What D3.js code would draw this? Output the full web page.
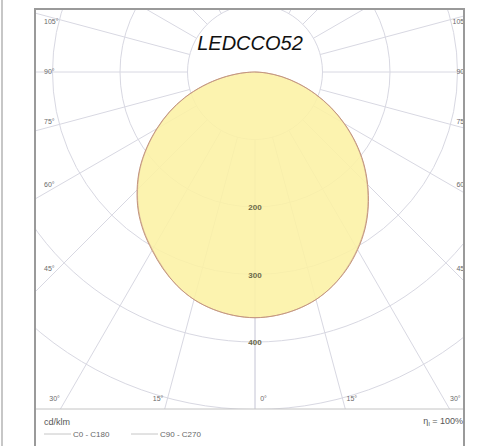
<!DOCTYPE html>
<html>
<head>
<meta charset="utf-8">
<script src="https://cdn.jsdelivr.net/npm/d3@7/dist/d3.min.js"></script>
<style>
  body { margin: 0; background: #fff; }
  text { font-family: "Liberation Sans", Arial, sans-serif; }
</style>
</head>
<body>
<div id="app"></div>
<script>
const WIDTH = 480;
const HEIGHT = 446;

// luminous intensity, cd/klm, by gamma angle
const GAMMA = [0, 5, 10, 15, 20, 25, 30, 35, 40, 45, 50, 55, 60, 65, 70, 75, 80, 85, 90];
const C0   = [364, 362, 357, 349, 337, 322, 304, 284, 261, 236, 210, 182, 153, 124, 95, 67, 41, 17, 0];
const C180 = [364, 362, 357, 349, 337, 322, 305, 288, 269, 247, 223, 196, 168, 140, 111, 80, 50, 22, 2];
const C90  = [364, 362, 357, 349, 337, 321, 303, 283, 260, 235, 209, 181, 152, 123, 94, 66, 40, 16, 0];
const C270 = [364, 362, 357, 349, 337, 321, 304, 287, 268, 246, 222, 195, 167, 139, 110, 79, 49, 21, 2];

const RINGS = [100, 200, 300, 400, 500];
const RING_LABELS = [200, 300, 400];
const SPOKES = [0, 15, 30, 45, 60, 75, 90, 105, 120, 135, 150, 165, 180];
const ANGLE_LABELS = [105, 90, 75, 60, 45, 30, 15, 0];

const TITLE = 'LEDCCO52';
const UNIT = 'cd/klm';
const LEGEND = ['C0 - C180', 'C90 - C270'];

const frame = { left: 35, top: 9, right: 464, legendTop: 409 };
const cx = 255, cy = 72;

const r = d3.scaleLinear().domain([0, 100]).range([0, 67.5]);

const svg = d3.select('#app').append('svg')
  .attr('width', WIDTH)
  .attr('height', HEIGHT);

svg.append('defs').append('clipPath').attr('id', 'plot')
  .append('rect')
    .attr('x', frame.left + 1).attr('y', frame.top + 1)
    .attr('width', frame.right - frame.left - 2)
    .attr('height', frame.legendTop - frame.top - 1);

// outer page line
svg.append('line')
  .attr('x1', 2).attr('x2', 2).attr('y1', 0).attr('y2', HEIGHT)
  .attr('stroke', '#b4b4b4').attr('stroke-width', 1.5);

const plot = svg.append('g').attr('clip-path', 'url(#plot)');

// point for gamma angle (deg, from nadir), side +1 right / -1 left
const pt = (g, v, side) => {
  const a = g * Math.PI / 180;
  return [cx + side * r(v) * Math.sin(a), cy + r(v) * Math.cos(a)];
};

// grid
const gridColor = '#d8d8e2';
plot.selectAll('.ring')
  .data(RINGS)
  .enter().append('circle')
    .attr('cx', cx).attr('cy', cy)
    .attr('r', d => r(d))
    .attr('fill', 'none')
    .attr('stroke', gridColor);

[1, -1].forEach(side => {
  plot.selectAll('.spoke' + side)
    .data(SPOKES)
    .enter().append('line')
      .attr('x1', d => pt(d, 100, side)[0])
      .attr('y1', d => pt(d, 100, side)[1])
      .attr('x2', d => pt(d, 900, side)[0])
      .attr('y2', d => pt(d, 900, side)[1])
      .attr('stroke', gridColor);
});

// curves
const curve = (right, left) => {
  const pts = [];
  for (let i = GAMMA.length - 1; i >= 0; i--) pts.push(pt(GAMMA[i], left[i], -1));
  for (let i = 1; i < GAMMA.length; i++) pts.push(pt(GAMMA[i], right[i], 1));
  return d3.line().curve(d3.curveCatmullRomClosed)(pts);
};

plot.append('path')
  .attr('d', curve(C0, C180))
  .attr('fill', '#fcf1a4')
  .attr('fill-opacity', 0.88)
  .attr('stroke', 'none');

plot.append('path')
  .attr('d', curve(C90, C270))
  .attr('fill', 'none')
  .attr('stroke', '#d2b49a')
  .attr('stroke-width', 0.8);

plot.append('path')
  .attr('d', curve(C0, C180))
  .attr('fill', 'none')
  .attr('stroke', '#c4957f')
  .attr('stroke-width', 1);

// ring labels along 0°
plot.selectAll('.rlab')
  .data(RING_LABELS)
  .enter().append('text')
    .attr('x', cx)
    .attr('y', d => cy + r(d) + 1)
    .attr('text-anchor', 'middle')
    .attr('dominant-baseline', 'middle')
    .attr('font-size', 8)
    .attr('font-weight', 'bold')
    .attr('fill', '#6b6a4a')
    .text(d => d);

// angle labels at frame edge
const edge = { left: 47, right: 463, bottom: 399 };
const labelPos = (g, side) => {
  const la = (g + (g < 90 ? 1.5 : g > 90 ? -1.5 : 0)) * Math.PI / 180;
  const dx = Math.sin(la), dy = Math.cos(la);
  const tx = dx === 0 ? Infinity : (side > 0 ? edge.right - cx : cx - edge.left) / dx;
  const ty = dy > 0 ? (edge.bottom - cy) / dy : Infinity;
  const t = Math.min(tx, ty);
  return { x: cx + side * t * dx, y: cy + t * dy, bottom: ty <= tx };
};

[1, -1].forEach(side => {
  plot.selectAll('.alab' + side)
    .data(side > 0 ? ANGLE_LABELS : ANGLE_LABELS.filter(d => d !== 0))
    .enter().append('text')
      .each(function(d) {
        const p = labelPos(d, side);
        const anchor = p.bottom ? 'middle' : (side > 0 ? 'end' : 'start');
        const x = p.bottom ? p.x : (side > 0 ? p.x + 4 : p.x - 3);
        d3.select(this)
          .attr('x', x).attr('y', p.y)
          .attr('text-anchor', anchor);
      })
      .attr('dominant-baseline', 'middle')
      .attr('font-size', 7)
      .attr('fill', '#6a6a6a')
      .text(d => d + '°');
});

// title
svg.append('text')
  .attr('x', 250).attr('y', 50)
  .attr('text-anchor', 'middle')
  .attr('font-size', 20)
  .attr('font-style', 'italic')
  .attr('fill', '#111')
  .text(TITLE);

// frame
svg.append('line')
  .attr('x1', frame.left).attr('x2', frame.right)
  .attr('y1', frame.legendTop).attr('y2', frame.legendTop)
  .attr('stroke', '#c4c4c4').attr('stroke-width', 1);

svg.append('path')
  .attr('d', `M${frame.left},${HEIGHT + 5}V${frame.top}H${frame.right}V${HEIGHT + 5}`)
  .attr('fill', 'none')
  .attr('stroke', '#9a9a9a')
  .attr('stroke-width', 2);

// legend
svg.append('text')
  .attr('x', 44).attr('y', 425)
  .attr('font-size', 9)
  .attr('fill', '#555')
  .text(UNIT);

const legend = svg.append('g').attr('transform', 'translate(44, 434)');
LEGEND.forEach((name, i) => {
  const g = legend.append('g').attr('transform', `translate(${i * 87}, 0)`);
  g.append('line')
    .attr('x1', 0).attr('x2', 27)
    .attr('stroke', '#b8b8b8').attr('stroke-width', 0.8);
  g.append('text')
    .attr('x', 29).attr('y', 3)
    .attr('font-size', 8)
    .attr('fill', '#666')
    .text(name);
});

const eta = svg.append('text')
  .attr('x', 463).attr('y', 424)
  .attr('text-anchor', 'end')
  .attr('font-size', 9)
  .attr('fill', '#555');
eta.append('tspan').text('η');
eta.append('tspan').attr('font-size', 6).attr('dy', 2).text('l');
eta.append('tspan').attr('dy', -2).text(' = 100%');
</script>
</body>
</html>
